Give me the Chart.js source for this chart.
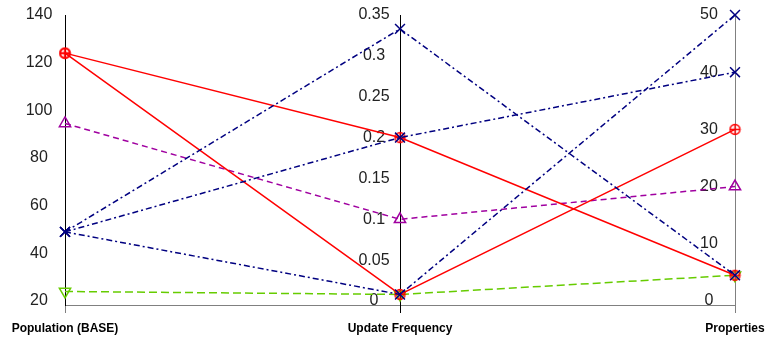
<!DOCTYPE html>
<html lang="en">
<head>
  <meta charset="UTF-8">
  <title>Parallel coordinates</title>
  <script src="https://cdn.jsdelivr.net/npm/chart.js@4"></script>
  <style>
    html, body { margin: 0; padding: 0; background: #fff; }
    #wrap { width: 773px; height: 340px; }
  </style>
</head>
<body>
  <div id="wrap"><canvas id="chart" width="773" height="340"></canvas></div>
  <script>
    // axes (categories) and their ranges / tick labels
    const categories = ['Population (BASE)', 'Update Frequency', 'Properties'];
    const popTicks = [20, 40, 60, 80, 100, 120, 140];
    const ufTicks = [0, 0.05, 0.1, 0.15, 0.2, 0.25, 0.3, 0.35];
    const propTicks = [0, 10, 20, 30, 40, 50];

    // one entry per polyline
    const population = [49, 49, 49, 124, 124, 94.5, 24];
    const updateFreq = [0.333, 0.2, 0.008, 0.2, 0.008, 0.1, 0.008];
    const properties = [4.5, 40, 50, 4.5, 30, 20, 4.5];
    const groups = ['blue', 'blue', 'blue', 'red', 'red', 'purple', 'green'];

    const ranges = [
      [popTicks[0], popTicks[popTicks.length - 1]],
      [ufTicks[0], ufTicks[ufTicks.length - 1]],
      [propTicks[0], propTicks[propTicks.length - 1]],
    ];
    // small gap between lowest tick and the base line
    const padFrac = 4 / 286;
    const FONT = 'Liberation Sans, Arial, sans-serif';

    function circlePlus(color) {
      const c = document.createElement('canvas');
      c.width = 13; c.height = 13;
      const g = c.getContext('2d');
      g.strokeStyle = color;
      g.lineWidth = 1.4;
      g.beginPath(); g.arc(6.5, 6.5, 5, 0, Math.PI * 2); g.stroke();
      g.beginPath();
      g.moveTo(1.5, 6.5); g.lineTo(11.5, 6.5);
      g.moveTo(6.5, 1.5); g.lineTo(6.5, 11.5);
      g.stroke();
      return c;
    }

    const styles = {
      blue:   { color: '#000080', dash: [6, 3, 2, 3], point: 'crossRot', radius: 7, rotation: 0 },
      red:    { color: '#ff0000', dash: [], point: circlePlus('#ff0000'), radius: 6, rotation: 0 },
      purple: { color: '#a000a0', dash: [6, 4], point: 'triangle', radius: 6.5, rotation: 0 },
      green:  { color: '#66cc00', dash: [8, 4], point: 'triangle', radius: 6.5, rotation: 180 },
    };

    const norm = (v, i) => (v - ranges[i][0]) / (ranges[i][1] - ranges[i][0]);

    const datasets = population.map((p, k) => {
      const s = styles[groups[k]];
      return {
        data: [
          { x: 0, y: norm(p, 0) },
          { x: 1, y: norm(updateFreq[k], 1) },
          { x: 2, y: norm(properties[k], 2) },
        ],
        yAxisID: 'yN',
        borderColor: s.color,
        borderWidth: 1.5,
        borderDash: s.dash,
        pointStyle: s.point,
        pointRadius: s.radius,
        pointRotation: s.rotation,
        pointBorderColor: s.color,
        pointBackgroundColor: 'rgba(0,0,0,0)',
        pointBorderWidth: 1.5,
        tension: 0,
        clip: false,
      };
    });

    function axisScale(i, ticks, borderColor) {
      const [lo, hi] = ranges[i];
      return {
        type: 'linear',
        position: { x: i },
        min: lo - (hi - lo) * padFrac,
        max: hi,
        afterBuildTicks: axis => { axis.ticks = ticks.map(v => ({ value: v })); },
        grid: { display: false, drawTicks: false },
        border: { display: true, color: borderColor, width: 1 },
        ticks: { display: false },
      };
    }

    // tick labels of the parallel axes, centred a little left of each axis line
    const axisLabels = {
      id: 'axisLabels',
      beforeDatasetsDraw(chart) {
        const ctx = chart.ctx;
        ctx.save();
        ctx.fillStyle = '#222';
        ctx.font = '16px ' + FONT;
        ctx.textAlign = 'center';
        ctx.textBaseline = 'middle';
        ['yPop', 'yUF', 'yProp'].forEach(id => {
          const s = chart.scales[id];
          const x = chart.scales.x.getPixelForValue(s.options.position.x) - 26;
          s.ticks.forEach(t => ctx.fillText(String(t.value), x, s.getPixelForValue(t.value)));
        });
        ctx.restore();
      },
    };

    new Chart(document.getElementById('chart'), {
      type: 'line',
      data: { datasets },
      options: {
        responsive: false,
        animation: false,
        layout: { padding: { left: 65, right: 38, top: 15, bottom: 0 } },
        plugins: { legend: { display: false }, tooltip: { enabled: false } },
        scales: {
          x: {
            type: 'linear',
            min: 0,
            max: 2,
            afterBuildTicks: axis => { axis.ticks = categories.map((c, i) => ({ value: i })); },
            afterFit: axis => { axis.height = 35; },
            grid: {
              drawOnChartArea: false,
              drawTicks: true,
              tickLength: 8,
              color: ['#808080', '#000000', '#808080'],
            },
            border: { display: true, color: '#808080', width: 1 },
            ticks: {
              color: '#000',
              padding: 8,
              maxRotation: 0,
              font: { family: FONT, size: 12, weight: 'bold' },
              callback: v => categories[v],
            },
          },
          yN: { type: 'linear', display: false, min: -padFrac, max: 1 },
          yPop: axisScale(0, popTicks, '#000000'),
          yUF: axisScale(1, ufTicks, '#000000'),
          yProp: axisScale(2, propTicks, '#808080'),
        },
      },
      plugins: [axisLabels],
    });
  </script>
</body>
</html>
